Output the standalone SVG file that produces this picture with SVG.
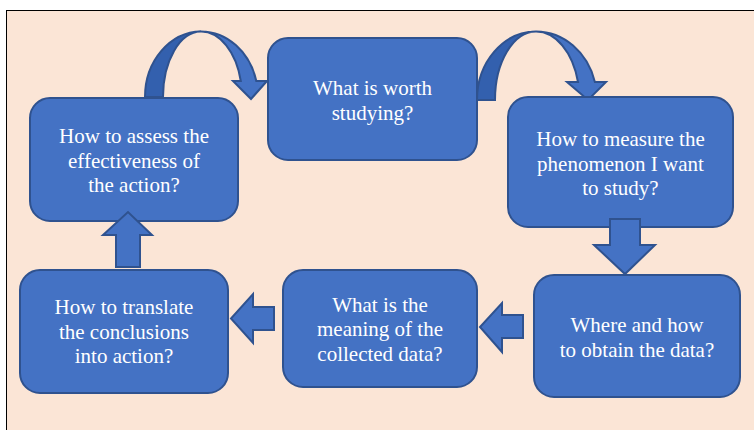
<svg xmlns="http://www.w3.org/2000/svg" width="754" height="430" viewBox="0 0 754 430">
<style>
.box{fill:#4472C4;stroke:#2F528F;stroke-width:2}
.arr{fill:#4472C4;stroke:#2F528F;stroke-width:2;stroke-linejoin:miter}
.dark{fill:#3360AE;stroke:#2F528F;stroke-width:2}
.t{font-family:"Liberation Serif","Times New Roman",serif;font-size:21px;fill:#FFFFFF;text-anchor:middle}
</style>
<rect x="0" y="0" width="754" height="430" fill="#FFFFFF"/>
<rect x="6.5" y="10.5" width="800" height="460" fill="#FBE5D6" stroke="#000000" stroke-width="1"/>
<g id="connectors">
<g id="curve-left">
<path class="dark" d="M145,97 A56.5,65.5 0 0 1 201,31.5 A38,65.5 0 0 0 163,97 Z"/>
<path class="arr" d="M201,31.5 A57,65.5 0 0 1 256.3,81 L267,81 L251,99 L233,81 L240.8,81 A41,65.5 0 0 0 201,31.5 Z"/>
</g>
<g id="curve-right">
<path class="dark" d="M477,100 A59,68.5 0 0 1 536,31.5 A41,68.5 0 0 0 495,100 Z"/>
<path class="arr" d="M536,31.5 A61,68.5 0 0 1 594.9,82 L606,82 L588,100 L567,82 L578,82 A43.5,68.5 0 0 0 536,31.5 Z"/>
</g>
</g>
<g id="n1"><rect class="box" x="30" y="98" width="208" height="123" rx="20"/>
<text class="t" x="134" y="143.3">How to assess the</text>
<text class="t" x="134" y="167.5">effectiveness of</text>
<text class="t" x="134" y="191.7">the action?</text></g>
<g id="n2"><rect class="box" x="268" y="38" width="209" height="122" rx="20"/>
<text class="t" x="372.5" y="95">What is worth</text>
<text class="t" x="372.5" y="120">studying?</text></g>
<g id="n3"><rect class="box" x="508" y="97" width="225" height="130" rx="20"/>
<text class="t" x="620.5" y="146">How to measure the</text>
<text class="t" x="620.5" y="170.5">phenomenon I want</text>
<text class="t" x="620.5" y="195">to study?</text></g>
<g id="n4"><rect class="box" x="20" y="270" width="208" height="123" rx="20"/>
<text class="t" x="124" y="314.3">How to translate</text>
<text class="t" x="124" y="339">the conclusions</text>
<text class="t" x="124" y="363.3">into action?</text></g>
<g id="n5"><rect class="box" x="283" y="270" width="194" height="117" rx="20"/>
<text class="t" x="380" y="312">What is the</text>
<text class="t" x="380" y="336.3">meaning of the</text>
<text class="t" x="380" y="360.5">collected data?</text></g>
<g id="n6"><rect class="box" x="534" y="275" width="206" height="122" rx="20"/>
<text class="t" x="637" y="332">Where and how</text>
<text class="t" x="637" y="356.5">to obtain the data?</text></g>
<g id="block-arrows">
<path class="arr" d="M610,219 L640,219 L640,245 L655,245 L625,274 L594,245 L610,245 Z"/>
<path class="arr" d="M116,267 L140,267 L140,235 L152,235 L128,212 L103,235 L116,235 Z"/>
<path class="arr" d="M274,307 L274,330 L253,330 L253,343 L231,318.5 L253,294 L253,307 Z"/>
<path class="arr" d="M523,315 L523,338 L502,338 L502,352 L480,327 L502,303 L502,315 Z"/>
</g>
</svg>
